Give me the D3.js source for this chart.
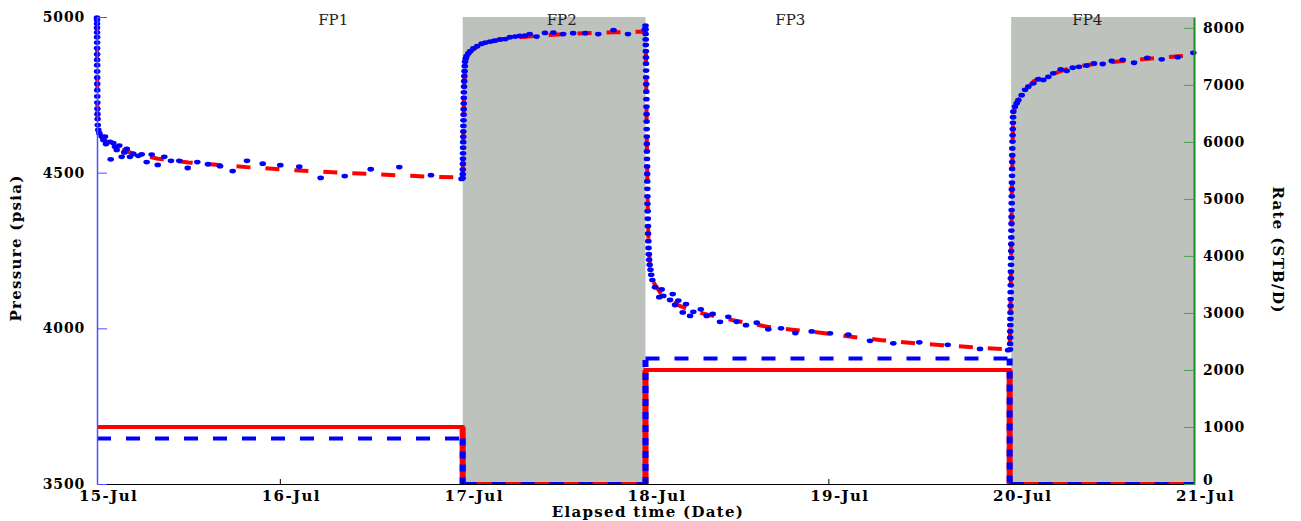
<!DOCTYPE html>
<meta charset="utf-8">
<style>
  body { margin: 0; background: #fff; }
  text { font-family: "DejaVu Serif", serif; }
  .tick text { font-weight: bold; font-size: 14px; letter-spacing: 0.8px; fill: #000; }
  .x-ticks .tick text { font-size: 15px; letter-spacing: 1.4px; }
  .axis-title { font-weight: bold; font-size: 15px; letter-spacing: 1.3px; fill: #000; }
  .fp-label { font-size: 15px; fill: #222; }
</style>
<body>
<script src="https://d3js.org/d3.v7.min.js"></script>
<script>
// elapsed hours since 15-Jul 00:00
var periodLabels = ["FP1", "FP2", "FP3", "FP4"];
var periodLabelHours = [31, 61, 91, 130];
var shutInStart = [48, 120];
var shutInEnd = [72, 144];

// rate history, STB/D
var rateHours = [0, 48, 48, 72, 72, 119.8, 119.8, 144];
var rateMeasured = [800, 800, 0, 0, 2200, 2200, 0, 0];
var rateModel = [1000, 1000, 0, 0, 2000, 2000, 0, 0];

// measured pressure (psia)
var obsHours = [
  // FP1 drawdown
  0, 0.002, 0.004, 0.006, 0.008, 0.01, 0.012, 0.014, 0.016, 0.018, 0.02, 0.023, 0.026, 0.03, 0.034, 0.038, 0.043, 0.05, 0.06, 0.08, 0.1,
  0.17, 0.30, 0.62, 0.83, 1.05, 1.18, 1.71, 1.80, 2.14, 2.36, 2.59, 2.93, 3.24, 3.58, 3.90, 4.33, 4.77, 5.42, 5.87, 6.52, 7.18, 7.97,
  8.83, 9.71, 10.80, 11.91, 13.17, 14.57, 16.15, 17.81, 19.69, 21.75, 24.06, 26.55, 29.36, 32.52, 35.93, 39.68, 43.84, 47.85,
  // FP2 build-up
  48.00, 48.01, 48.02, 48.03, 48.04, 48.05, 48.06, 48.07, 48.08, 48.09, 48.10, 48.11, 48.12, 48.13, 48.14, 48.15, 48.16, 48.18, 48.20,
  48.22, 48.25, 48.28, 48.31, 48.40, 48.50, 48.74, 49.0, 49.4, 49.9, 50.5, 51.0, 51.6, 52.2, 52.9, 53.6, 54.2, 54.9, 55.5, 56.2, 56.8,
  57.7, 58.8, 59.9, 61.2, 62.5, 64.1, 65.8, 67.8, 69.7, 71.9,
  // FP3 drawdown
  72.00, 72.01, 72.02, 72.03, 72.04, 72.05, 72.06, 72.07, 72.08, 72.09, 72.10, 72.11, 72.12, 72.13, 72.14, 72.15, 72.16, 72.17, 72.18,
  72.19, 72.20, 72.21, 72.22, 72.23, 72.24, 72.25, 72.26, 72.28, 72.30, 72.32, 72.34, 72.37, 72.40, 72.44, 72.48, 72.55, 72.65, 72.75,
  72.9, 73.25, 73.81, 74.12, 74.34, 75.22, 75.57, 75.88, 76.31, 76.89, 77.32, 77.85, 78.28, 79.25, 80.04, 80.82, 81.78, 82.87, 83.97,
  85.19, 86.60, 88.12, 89.79, 91.67, 93.82, 96.22, 98.62, 101.47, 104.53, 107.94, 111.67, 115.91, 119.6,
  // FP4 build-up
  119.85, 119.86, 119.87, 119.88, 119.89, 119.90, 119.91, 119.92, 119.93, 119.94, 119.95, 119.96, 119.97, 119.98, 119.99, 120.00,
  120.01, 120.02, 120.03, 120.04, 120.05, 120.06, 120.07, 120.08, 120.09, 120.10, 120.11, 120.12, 120.13, 120.14, 120.15, 120.17,
  120.19, 120.21, 120.23, 120.25, 120.28, 120.50, 120.73, 120.94, 121.38, 121.82, 122.25, 122.91, 123.56, 124.22, 124.88, 125.53,
  126.50, 127.29, 128.08, 128.90, 129.92, 130.87, 132.02, 133.20, 134.64, 136.13, 137.87, 139.76, 141.86, 143.91
];
var obsPsia = [
  4998, 4990, 4978, 4965, 4950, 4935, 4918, 4900, 4880, 4862, 4845, 4825, 4805, 4785, 4765, 4745, 4725, 4705, 4688, 4672, 4653,
  4637, 4627, 4616, 4605, 4616, 4592, 4599, 4543, 4595, 4583, 4573, 4587, 4551, 4565, 4576, 4551, 4560, 4554, 4559, 4534, 4558, 4525,
  4551, 4538, 4538, 4515, 4534, 4527, 4521, 4505, 4538, 4529, 4524, 4519, 4483, 4489, 4511, 4518, 4492, 4480,
  4482, 4495, 4510, 4528, 4545, 4562, 4580, 4598, 4615, 4632, 4650, 4668, 4686, 4704, 4722, 4740, 4758, 4776, 4794,
  4810, 4826, 4842, 4856, 4866, 4874, 4883, 4890, 4899, 4906, 4914, 4918, 4921, 4924, 4928, 4929, 4935, 4937, 4939, 4940, 4945,
  4937, 4949, 4950, 4945, 4948, 4948, 4945, 4958, 4945, 4960,
  4972, 4960, 4945, 4928, 4910, 4890, 4870, 4850, 4828, 4806, 4784, 4760, 4736, 4712, 4688, 4664, 4640, 4616, 4592,
  4568, 4544, 4520, 4496, 4472, 4448, 4424, 4400, 4376, 4352, 4328, 4304, 4280, 4258, 4238, 4220, 4204, 4188, 4172,
  4155, 4132, 4100, 4125, 4104, 4091, 4110, 4075, 4089, 4051, 4078, 4040, 4053, 4061, 4040, 4046, 4021, 4037, 4021,
  4010, 4018, 3997, 4000, 3985, 3990, 3984, 3980, 3960, 3952, 3955, 3947, 3934, 3930,
  3932, 3950, 3970, 3990, 4010, 4030, 4050, 4072, 4094, 4116, 4138, 4160, 4182, 4204, 4226, 4248,
  4270, 4292, 4314, 4336, 4358, 4380, 4402, 4424, 4446, 4468, 4490, 4512, 4534, 4556, 4578, 4600,
  4620, 4640, 4660, 4678, 4696, 4712, 4723, 4733, 4749, 4766, 4776, 4787, 4800, 4798, 4808, 4819,
  4832, 4827, 4837, 4840, 4844, 4851, 4849, 4859, 4862, 4853, 4869, 4864, 4871, 4885
];

// model pressure (psia)
var modelHours = [
  0, 0.05, 0.1, 0.3, 0.7, 1.5, 3, 5, 8, 12, 16, 20, 24, 28, 32, 36, 40, 44, 48,
  48.1, 48.2, 48.35, 48.6, 49, 50, 51, 52.5, 54, 56, 58, 60, 62, 64, 66, 68, 70, 72,
  72.05, 72.1, 72.2, 72.3, 72.4, 72.6, 73, 74, 75, 76.5, 78, 80, 82, 85, 88, 91, 95, 99, 103, 107, 111, 115, 119.8,
  119.9, 120.0, 120.1, 120.2, 120.3, 120.6, 121, 121.5, 122, 123, 124, 125.5, 126.5, 128, 130, 132, 134, 136, 138, 140, 142, 144
];
var modelPsia = [
  5000, 4700, 4660, 4630, 4612, 4595, 4575, 4560, 4545, 4533, 4525, 4517, 4511, 4505, 4500, 4496, 4491, 4487, 4484,
  4650, 4780, 4850, 4874, 4889, 4906, 4916, 4925, 4931, 4936, 4940, 4943, 4946, 4948, 4950, 4951, 4952, 4953,
  4900, 4780, 4560, 4380, 4270, 4200, 4150, 4112, 4092, 4072, 4058, 4045, 4033, 4019, 4005, 3996, 3986, 3973, 3962, 3953, 3946, 3939, 3932,
  4040, 4250, 4460, 4620, 4690, 4718, 4735, 4753, 4769, 4795, 4805, 4817, 4826, 4838, 4846, 4852, 4857, 4862, 4866, 4870, 4874, 4877
];

var width = 1301, height = 521;
var plotL = 97, plotR = 1194, plotT = 17, plotB = 484;
var start = new Date(2020, 6, 15);
function toDate(h) { return new Date(start.getTime() + h * 3600e3); }

var x = d3.scaleTime().domain([toDate(0), toDate(144)]).range([plotL, plotR]);
var yP = d3.scaleLinear().domain([3500, 5000]).range([plotB, plotT]);
var yR = d3.scaleLinear().domain([0, 8190]).range([plotB, plotT]);

var svg = d3.select("body").append("svg")
    .attr("width", width)
    .attr("height", height);

svg.append("clipPath").attr("id", "plot")
  .append("rect")
    .attr("x", plotL).attr("y", plotT)
    .attr("width", plotR - plotL).attr("height", plotB - plotT);

// shut-in shading
svg.selectAll("rect.shade")
    .data(shutInStart)
  .enter().append("rect")
    .attr("class", "shade")
    .attr("x", function(d) { return x(toDate(d)); })
    .attr("y", plotT)
    .attr("width", function(d, i) { return x(toDate(shutInEnd[i])) - x(toDate(d)); })
    .attr("height", plotB - plotT)
    .attr("fill", "#bec2bc");

// rate lines
var rateG = svg.append("g").attr("clip-path", "url(#plot)");
function stepSegments(vals, vertical) {
  var segs = [];
  for (var i = 0; i < rateHours.length - 1; i++) {
    var isVert = rateHours[i] === rateHours[i + 1];
    if (isVert === vertical) segs.push([[rateHours[i], vals[i]], [rateHours[i + 1], vals[i + 1]]]);
  }
  return segs;
}
var rateLine = d3.line()
    .x(function(d) { return x(toDate(d[0])); })
    .y(function(d) { return yR(d[1]); });

rateG.append("path")
    .datum(rateHours.map(function(h, i) { return [h, rateModel[i]]; }))
    .attr("d", rateLine)
    .attr("fill", "none")
    .attr("stroke", "#ff0000")
    .attr("stroke-width", 4);
rateG.selectAll("path.rv")
    .data(stepSegments(rateModel, true))
  .enter().append("path")
    .attr("class", "rv")
    .attr("d", rateLine)
    .attr("stroke", "#ff0000")
    .attr("stroke-width", 6);
rateG.selectAll("path.mh")
    .data(stepSegments(rateMeasured, false))
  .enter().append("path")
    .attr("class", "mh")
    .attr("d", rateLine)
    .attr("stroke", "#0000ff")
    .attr("stroke-width", 4)
    .attr("stroke-dasharray", "14,15");
rateG.selectAll("path.mv")
    .data(stepSegments(rateMeasured, true))
  .enter().append("path")
    .attr("class", "mv")
    .attr("d", rateLine)
    .attr("stroke", "#0000ff")
    .attr("stroke-width", 6)
    .attr("stroke-dasharray", "7,6");

// model pressure
var pLine = d3.line()
    .x(function(d, i) { return x(toDate(d)); })
    .y(function(d, i) { return yP(modelPsia[i]); });
svg.append("path")
    .datum(modelHours)
    .attr("d", pLine)
    .attr("fill", "none")
    .attr("stroke", "#ff0000")
    .attr("stroke-width", 4)
    .attr("stroke-dasharray", "14,15");

// measured pressure
svg.selectAll("ellipse.obs")
    .data(obsHours)
  .enter().append("ellipse")
    .attr("class", "obs")
    .attr("cx", function(d) { return x(toDate(d)); })
    .attr("cy", function(d, i) { return yP(obsPsia[i]); })
    .attr("rx", 3.3)
    .attr("ry", 2.4)
    .attr("fill", "#0000ff");

// axes
var xAxis = svg.append("g")
    .attr("class", "x-ticks")
    .attr("transform", "translate(0," + plotB + ")")
    .call(d3.axisBottom(x)
      .ticks(d3.timeDay.every(1))
      .tickFormat(d3.timeFormat("%d-%b"))
      .tickSizeInner(-5).tickSizeOuter(0).tickPadding(6));
xAxis.attr("font-size", null).attr("font-family", null);
xAxis.select(".domain").attr("stroke", "#000").attr("stroke-width", 1.2);
xAxis.selectAll(".tick text").attr("dx", 11);

var yAxis = svg.append("g")
    .attr("transform", "translate(" + plotL + ",0)")
    .call(d3.axisLeft(yP)
      .tickValues([3500, 4000, 4500, 5000])
      .tickFormat(d3.format("d"))
      .tickSizeInner(-10).tickSizeOuter(0).tickPadding(12));
yAxis.attr("font-size", null).attr("font-family", null);
yAxis.select(".domain").attr("stroke", "#5050ff").attr("stroke-width", 1.5);
yAxis.selectAll(".tick line").attr("stroke", "#5050ff");

var rAxis = svg.append("g")
    .attr("transform", "translate(" + plotR + ",0)")
    .call(d3.axisRight(yR)
      .tickValues(d3.range(0, 8001, 1000))
      .tickFormat(d3.format("d"))
      .tickSizeInner(-10).tickSizeOuter(0).tickPadding(9));
rAxis.attr("font-size", null).attr("font-family", null);
rAxis.select(".domain").attr("stroke", "#1e8c1e").attr("stroke-width", 2);
rAxis.selectAll(".tick line").attr("stroke", "#4c9f4c");
rAxis.selectAll(".tick text").filter(function(d) { return d === 0; }).attr("dy", "0.05em");

// titles
svg.append("text")
    .attr("class", "axis-title")
    .attr("transform", "translate(21,248) rotate(-90)")
    .attr("text-anchor", "middle")
    .text("Pressure (psia)");
svg.append("text")
    .attr("class", "axis-title")
    .attr("transform", "translate(1273,250) rotate(90)")
    .attr("text-anchor", "middle")
    .text("Rate (STB/D)");
svg.append("text")
    .attr("class", "axis-title")
    .attr("x", 648).attr("y", 517)
    .attr("text-anchor", "middle")
    .text("Elapsed time (Date)");

svg.selectAll("text.fp-label")
    .data(periodLabels)
  .enter().append("text")
    .attr("class", "fp-label")
    .attr("x", function(d, i) { return x(toDate(periodLabelHours[i])); })
    .attr("y", 25)
    .attr("text-anchor", "middle")
    .text(function(d) { return d; });
</script>
</body>
